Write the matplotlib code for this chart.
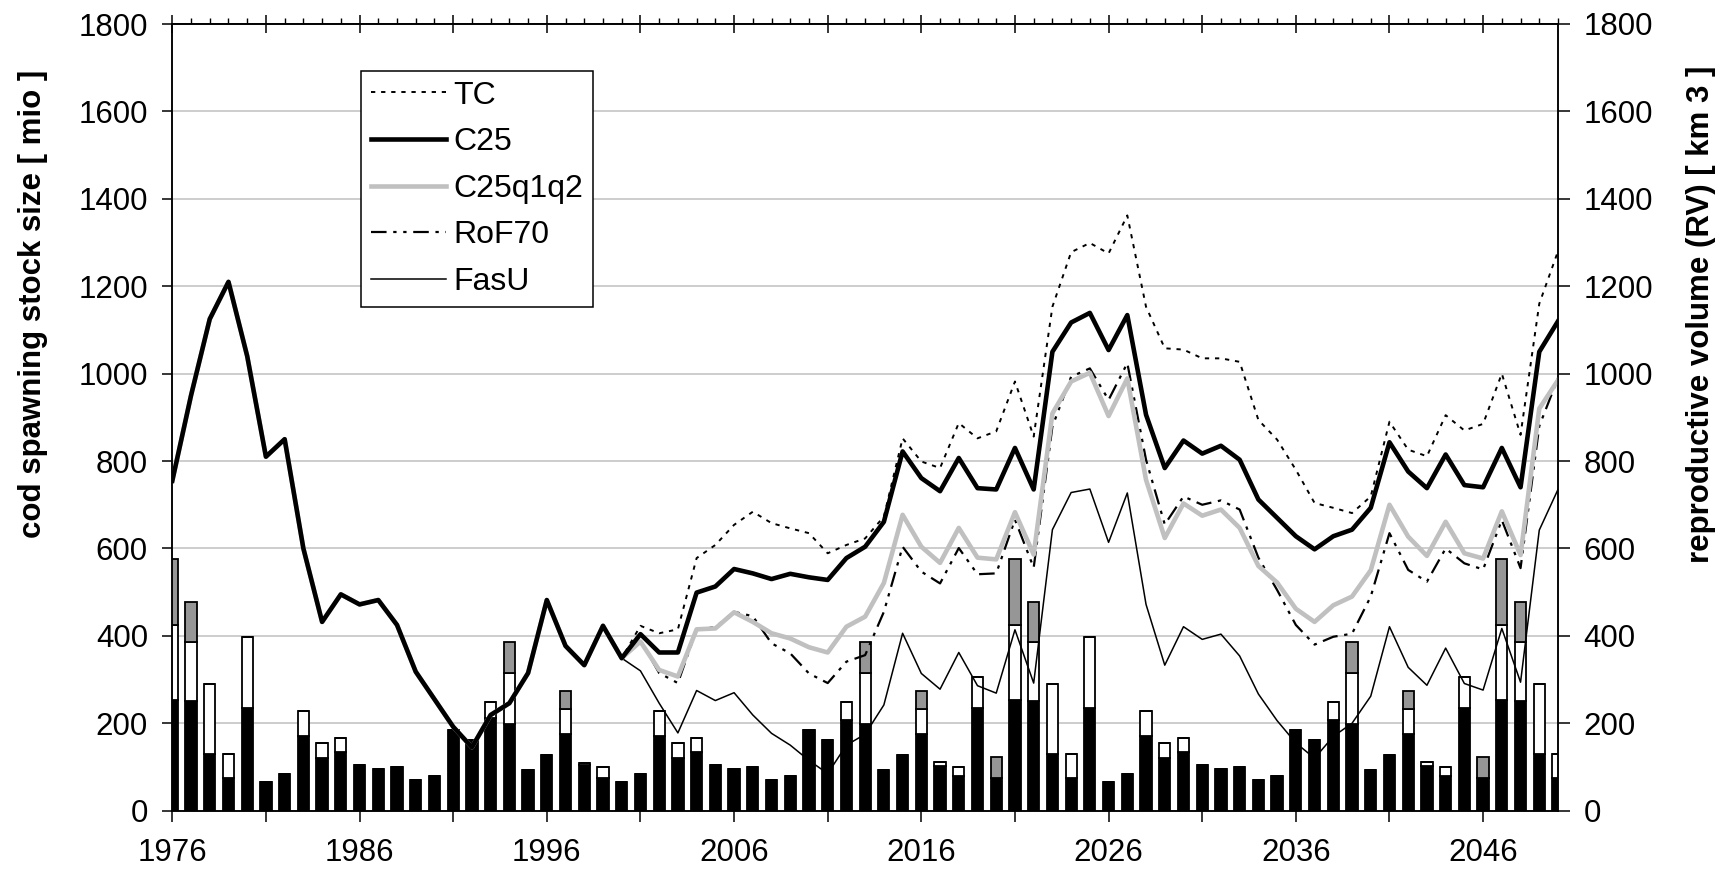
import matplotlib
matplotlib.use("Agg")
import matplotlib.pyplot as plt
from matplotlib.ticker import FixedLocator, FuncFormatter, MultipleLocator
import numpy as np

plt.rcParams['font.family'] = ['Liberation Sans', 'DejaVu Sans']

years = list(range(1976, 2051))

hist = [755, 950, 1125, 1210, 1040, 810, 850, 600, 432, 495, 472, 482, 425, 318, 255,
        192, 145, 219, 246, 315, 482, 377, 333, 423, 349]

tc = hist + [423, 406, 415, 578, 608, 654, 684, 658, 646, 635, 589, 608, 623, 673, 852,
             799, 784, 887, 852, 868, 982, 856, 1153, 1278, 1299, 1275, 1362, 1153, 1058, 1055,
             1035, 1035, 1027, 894, 849, 780, 704, 693, 681, 719, 890, 826, 811, 905, 870,
             885, 1000, 860, 1160, 1280]
c25 = hist + [404, 362, 362, 499, 513, 553, 543, 530, 542, 534, 528, 578, 604, 661, 822,
              761, 731, 807, 738, 735, 830, 735, 1050, 1117, 1139, 1054, 1134, 906, 784, 847,
              817, 835, 803, 712, 670, 628, 598, 628, 643, 693, 843, 776, 738, 815, 745,
              740, 830, 740, 1050, 1120]
c25q1q2 = hist + [387, 322, 307, 415, 417, 454, 432, 406, 394, 374, 362, 421, 444, 521, 677,
                  604, 567, 647, 579, 575, 683, 586, 909, 982, 1002, 903, 989, 757, 624, 703,
                  675, 689, 647, 560, 522, 462, 432, 470, 490, 550, 700, 627, 583, 661, 589,
                  577, 685, 585, 920, 985]
rof70 = hist + [390, 315, 292, 415, 420, 455, 445, 383, 360, 314, 292, 341, 356, 455, 604,
                547, 520, 601, 541, 543, 666, 556, 879, 993, 1012, 940, 1024, 803, 655, 719,
                700, 710, 689, 579, 505, 425, 380, 398, 405, 490, 635, 551, 524, 600, 566,
                552, 665, 555, 880, 990]
fasu = hist + [320, 246, 178, 275, 252, 270, 219, 177, 150, 115, 85, 150, 175, 242, 406,
               314, 278, 362, 286, 269, 414, 292, 643, 728, 736, 614, 727, 472, 333, 421,
               392, 404, 354, 267, 206, 155, 120, 170, 200, 262, 421, 328, 287, 372, 291,
               276, 417, 294, 642, 735]

# reproductive volume components (stacked): black, white, gray
rv_black = [253, 250, 130, 75, 234, 65, 85, 171, 120, 135, 105, 95, 100, 70, 80,
            185, 162, 212, 198, 92, 128, 175, 105, 75, 65, 85, 171, 120, 135, 105,
            95, 100, 70, 80, 185, 162, 208, 198, 92, 128, 175, 102, 79, 236, 75,
            253, 250, 130, 75, 234, 65, 85, 171, 120, 135, 105, 95, 100, 70, 80,
            185, 162, 208, 198, 92, 128, 175, 102, 79, 236, 75, 253, 250, 130, 75]
rv_white = [172, 135, 159, 55, 164, 0, 0, 58, 36, 31, 0, 0, 0, 0, 0,
            0, 0, 36, 118, 0, 0, 57, 5, 25, 0, 0, 58, 36, 31, 0,
            0, 0, 0, 0, 0, 0, 40, 118, 0, 0, 57, 9, 22, 71, 0,
            172, 135, 159, 55, 164, 0, 0, 58, 36, 31, 0, 0, 0, 0, 0,
            0, 0, 40, 118, 0, 0, 57, 9, 22, 71, 0, 172, 135, 159, 55]
rv_gray = [150, 92, 0, 0, 0, 0, 0, 0, 0, 0, 0, 0, 0, 0, 0,
           0, 0, 0, 69, 0, 0, 43, 0, 0, 0, 0, 0, 0, 0, 0,
           0, 0, 0, 0, 0, 0, 0, 69, 0, 0, 43, 0, 0, 0, 49,
           150, 92, 0, 0, 0, 0, 0, 0, 0, 0, 0, 0, 0, 0, 0,
           0, 0, 0, 69, 0, 0, 43, 0, 0, 0, 49, 150, 92, 0, 0]

W, H = 1724, 873
fig = plt.figure(figsize=(W / 100, H / 100), dpi=100)
L, R, T, B = 172.3, 1558, 24, 810.7
ax2 = fig.add_axes([L / W, 1 - B / H, (R - L) / W, (B - T) / H])
ax = ax2.twinx()
ax.set_zorder(ax2.get_zorder() + 1)
ax.patch.set_visible(False)

yr = np.array(years)
bw = 0.6
b1 = np.array(rv_black)
b2 = np.array(rv_white)
b3 = np.array(rv_gray)
ax2.bar(yr, b1, width=bw, color='black', edgecolor='black', linewidth=1.3, zorder=2)
ax2.bar(yr, b2, width=bw, bottom=b1, color='white', edgecolor='black', linewidth=1.3, zorder=2)
ax2.bar(yr, b3, width=bw, bottom=b1 + b2, color='#969696', edgecolor='black', linewidth=1.3, zorder=2)

for a in (ax, ax2):
    a.set_xlim(1976, 2050)
    a.set_ylim(0, 1800)
    a.yaxis.set_major_locator(MultipleLocator(200))

ax2.grid(axis='y', color='#c0c0c0', linewidth=1.1, zorder=0)
ax2.set_axisbelow(True)

lines = []
lines += ax.plot(yr, tc, color='black', lw=1.4, linestyle=(0, (2.2, 3.0)), label='TC')
lines += ax.plot(yr, rof70, color='black', lw=1.6, linestyle=(0, (7, 3, 1.5, 3, 1.5, 3)), label='RoF70')
lines += ax.plot(yr, fasu, color='black', lw=1.1, label='FasU')
lines += ax.plot(yr, c25q1q2, color='#c0c0c0', lw=3.3, label='C25q1q2')
lines += ax.plot(yr, c25, color='black', lw=3.3, label='C25')
order = ['TC', 'C25', 'C25q1q2', 'RoF70', 'FasU']
hd = {l.get_label(): l for l in lines}

for a in (ax, ax2):
    for s in a.spines.values():
        s.set_linewidth(1.1)
        s.set_color('black')

ax2.yaxis.tick_left()
ax.yaxis.tick_right()
ax2.tick_params(axis='y', which='major', direction='out', length=7.5, width=1.1, labelsize=22.5, pad=10)
ax.tick_params(axis='y', which='major', direction='out', length=8.5, width=1.1, labelsize=22.5, pad=10)

ticks5 = list(range(1976, 2051, 5))
ax2.xaxis.set_major_locator(FixedLocator(ticks5))
ax2.xaxis.set_major_formatter(FuncFormatter(lambda v, p: f"{int(round(v))}" if (int(round(v)) - 1976) % 10 == 0 else ""))
ax2.tick_params(axis='x', which='major', direction='out', length=8, width=1.1, labelsize=22.5, pad=12)
ax.tick_params(axis='x', which='both', bottom=False, top=False, labelbottom=False, labeltop=False)

top = ax2.secondary_xaxis('top')
top.xaxis.set_major_locator(FixedLocator(ticks5))
top.xaxis.set_minor_locator(FixedLocator(years))
top.tick_params(axis='x', which='major', direction='inout', length=13, width=1.1, labeltop=False)
top.tick_params(axis='x', which='minor', direction='out', length=4.5, width=1.0)
top.spines['top'].set_linewidth(1.1)

fig.text(33 / W, 1 - 304 / H, 'cod spawning stock size [ mio ]', rotation=90, fontsize=22.5,
         fontweight='bold', ha='center', va='center')
fig.text(1701 / W, 1 - 314 / H, 'reproductive volume (RV) [ km 3 ]', rotation=90, fontsize=22.5,
         fontweight='bold', ha='center', va='center')

leg = ax.legend([hd[k] for k in order], order, loc='upper left',
                bbox_to_anchor=(361 / W, 1 - 71 / H), bbox_transform=fig.transFigure,
                fontsize=23, frameon=True, fancybox=False, edgecolor='black', framealpha=1,
                handlelength=2.35, handletextpad=0.25, labelspacing=0.52, borderpad=0.3,
                borderaxespad=0)
leg.get_frame().set_linewidth(1.1)

fig.savefig('out.png', dpi=100)
